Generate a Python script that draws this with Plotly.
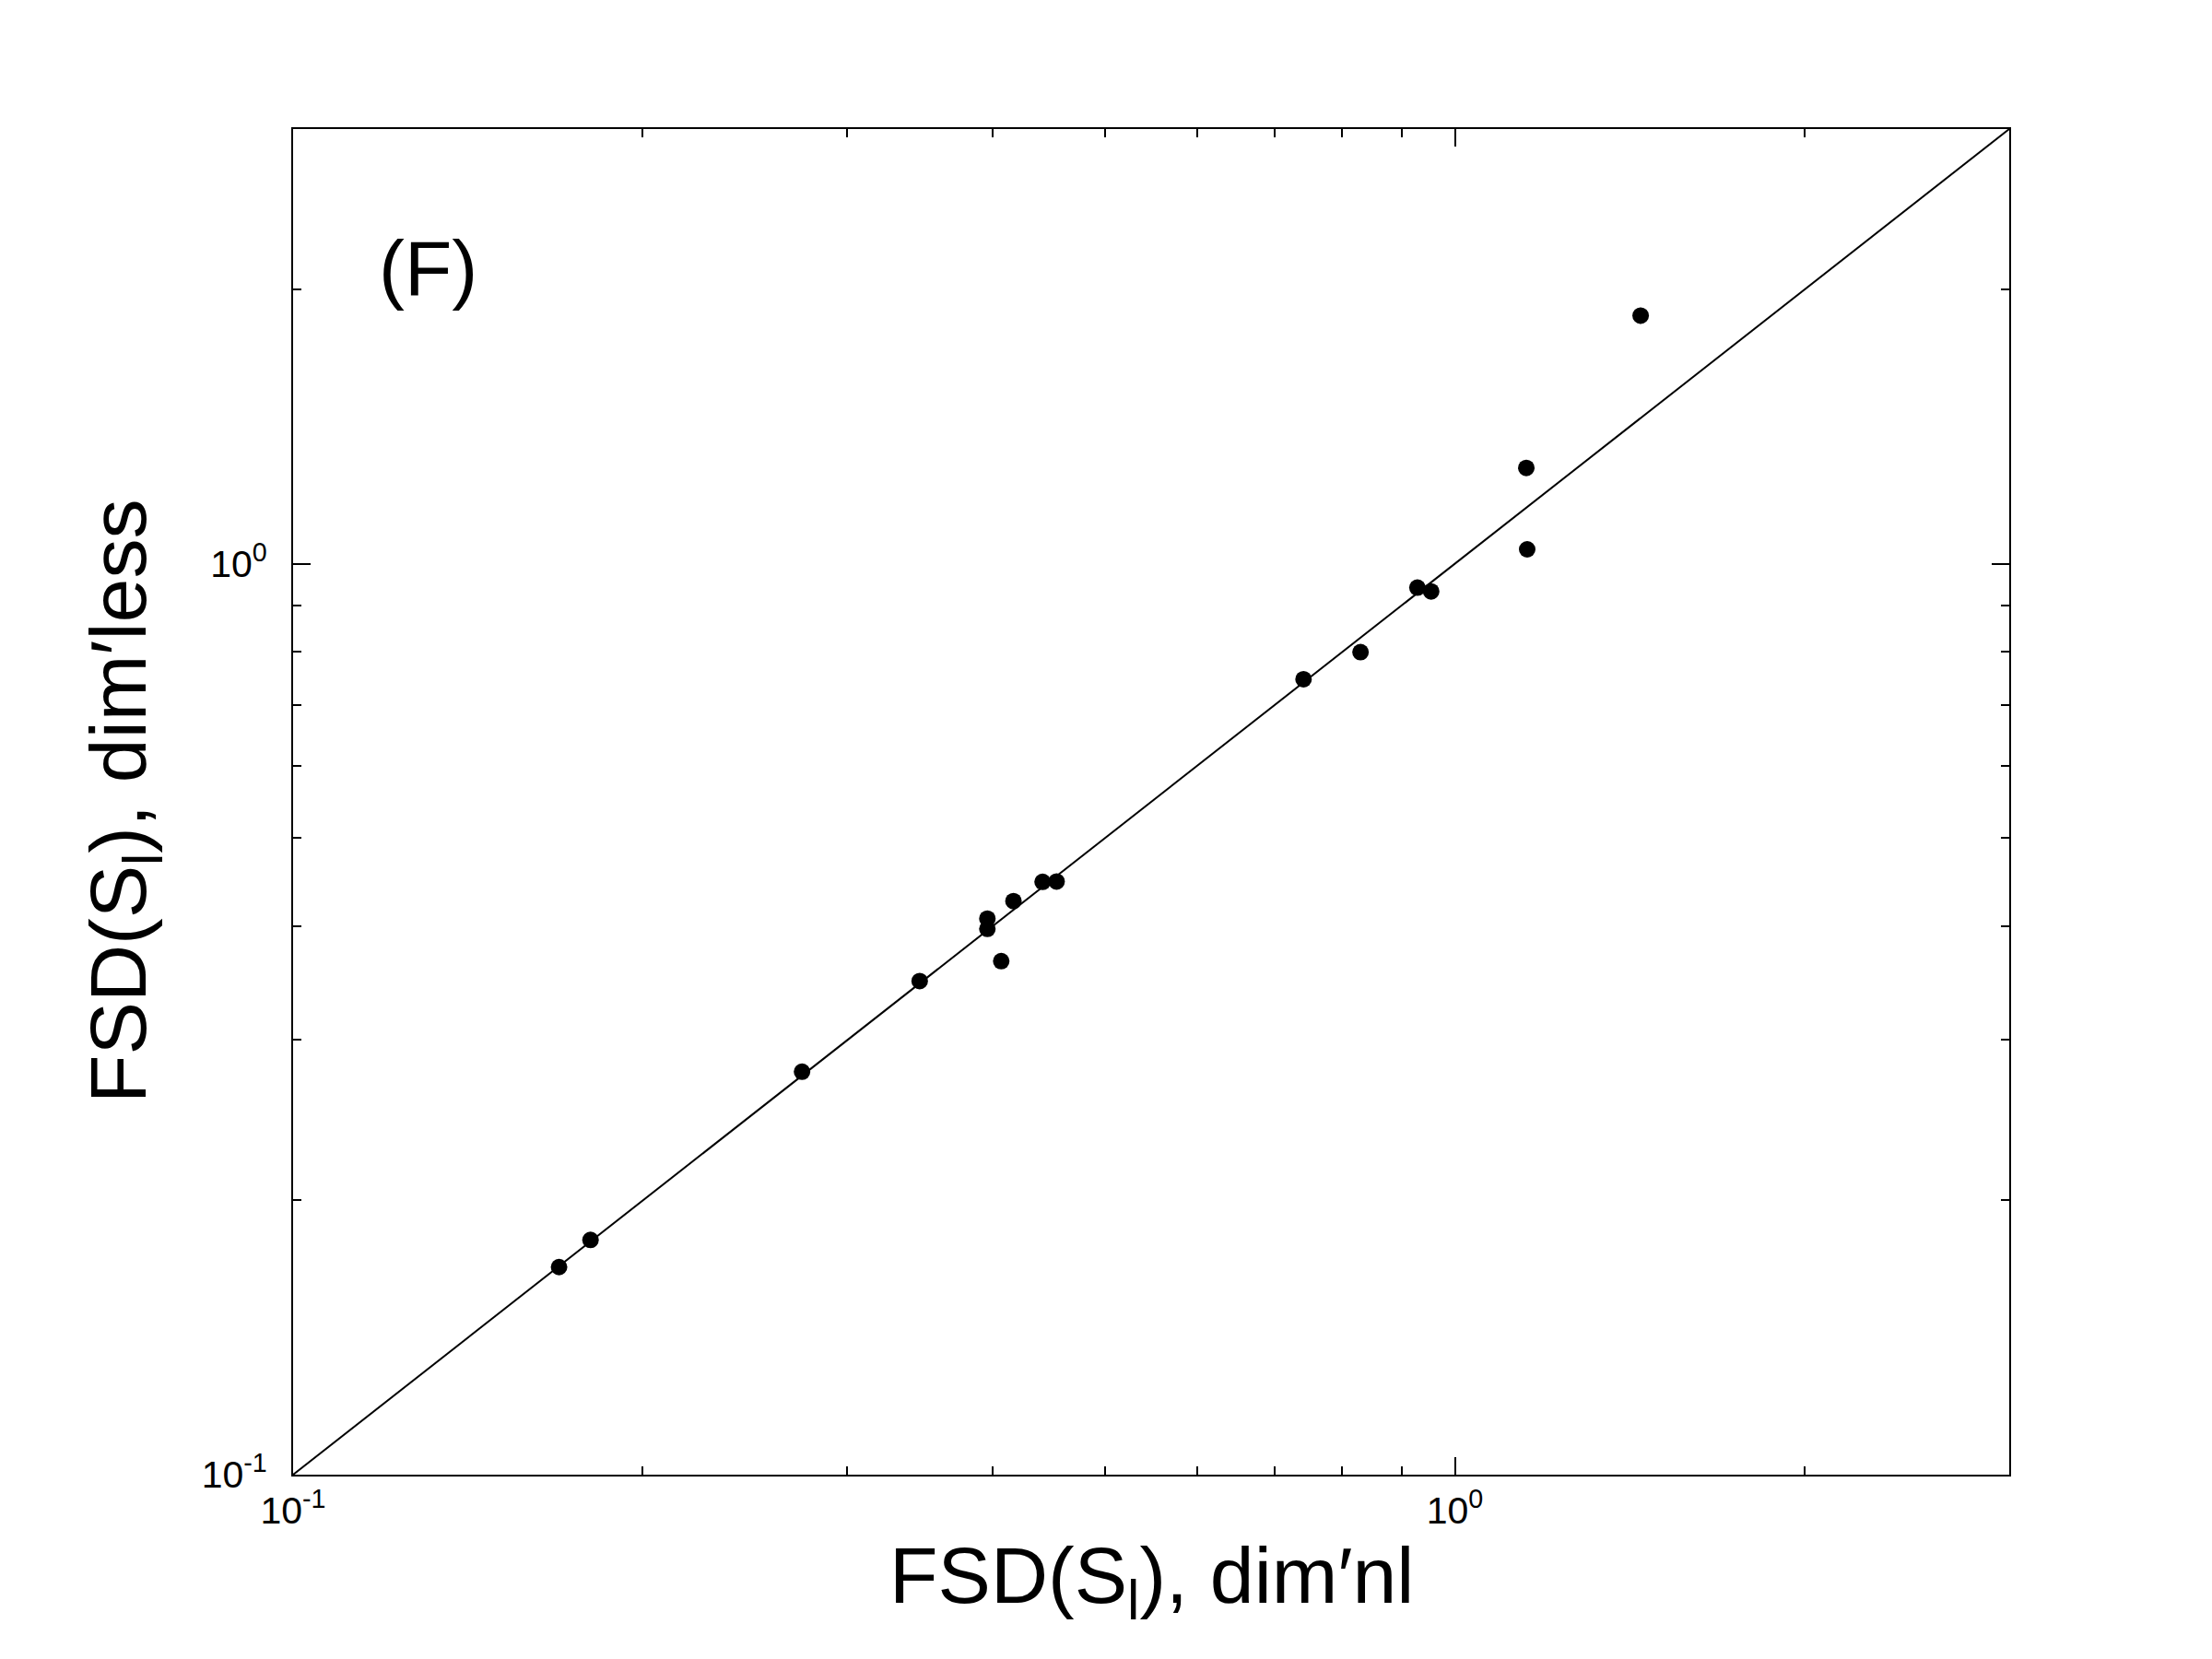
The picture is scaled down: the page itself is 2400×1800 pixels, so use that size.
import plotly.graph_objects as go

# FSD values
fsd_x = [0.1694, 0.1803, 0.2742, 0.3462, 0.3959, 0.3959, 0.4069, 0.4169,
         0.4417, 0.4541, 0.7408, 0.8294, 0.9284, 0.9540, 1.152, 1.154, 1.445]
fsd_y = [0.1690, 0.1810, 0.2769, 0.3482, 0.4077, 0.3973, 0.3662, 0.4262,
         0.4474, 0.4478, 0.7467, 0.7996, 0.9412, 0.9324, 1.274, 1.037, 1.872]

# 1:1 reference line ends
line_ends = [0.1, 3.0]

major_ticks = [0.1, 1.0]
major_text = ["10<sup>-1</sup>", "10<sup>0</sup>"]
minor_ticks = [0.2, 0.3, 0.4, 0.5, 0.6, 0.7, 0.8, 0.9, 2.0, 3.0]

FONT = "Arial, Liberation Sans, sans-serif"

fig = go.Figure()
fig.add_trace(
    go.Scatter(
        x=line_ends, y=line_ends, mode="lines",
        line={"color": "black", "width": 2}, showlegend=False,
    )
)
fig.add_trace(
    go.Scatter(
        x=fsd_x, y=fsd_y, mode="markers",
        marker={"color": "black", "size": 18}, showlegend=False,
    )
)

axis_style = dict(
    type="log",
    range=[-1, 0.47712],
    showgrid=False,
    zeroline=False,
    showline=True,
    linecolor="black",
    linewidth=2,
    mirror="ticks",
    ticks="inside",
    ticklen=19,
    tickwidth=2,
    tickcolor="black",
    tickmode="array",
    tickvals=major_ticks,
    ticktext=major_text,
    tickfont={"family": FONT, "size": 41, "color": "black"},
    minor={"ticks": "inside", "ticklen": 9, "tickwidth": 2,
           "tickcolor": "black", "tickmode": "array", "tickvals": minor_ticks,
           "showgrid": False},
)

fig.update_xaxes(ticklabelstandoff=2, **axis_style)
fig.update_yaxes(ticklabelstandoff=18, **axis_style)

fig.add_annotation(
    text="(F)", xref="paper", yref="paper", x=0.0785, y=0.8964,
    xanchor="center", yanchor="middle", showarrow=False,
    font={"family": FONT, "size": 84, "color": "black"},
)
fig.add_annotation(
    text="FSD(S<sub>l</sub>), dim′nl", xref="paper", yref="paper",
    x=0.5, y=0, xanchor="center", yanchor="top", yshift=-59,
    showarrow=False, font={"family": FONT, "size": 86, "color": "black"},
)
fig.add_annotation(
    text="FSD(S<sub>l</sub>), dim′less", xref="paper", yref="paper",
    x=0, y=0.5, xanchor="center", yanchor="middle", xshift=-184,
    textangle=-90, showarrow=False,
    font={"family": FONT, "size": 86, "color": "black"},
)

fig.update_layout(
    width=2400,
    height=1800,
    margin={"l": 310, "r": 228, "t": 132, "b": 208},
    paper_bgcolor="white",
    plot_bgcolor="white",
    font={"family": FONT, "color": "black"},
)

fig.write_html("out.html")
